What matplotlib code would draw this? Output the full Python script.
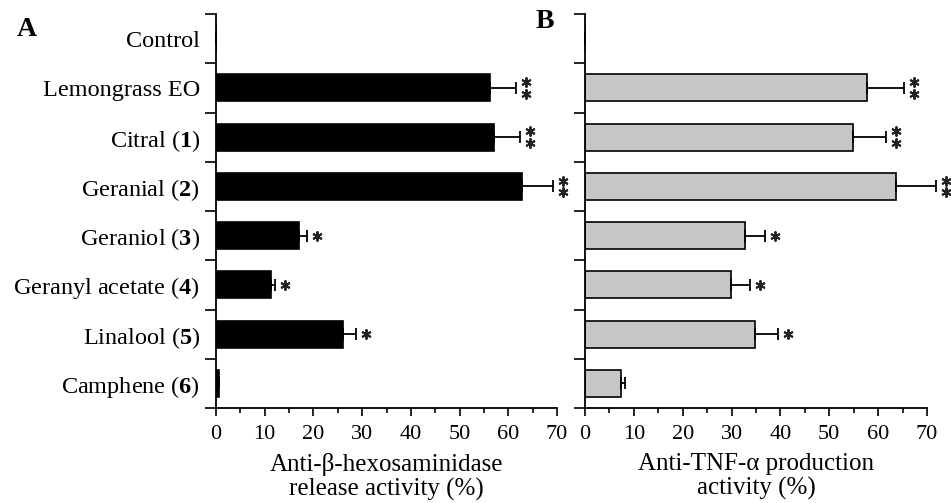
import numpy as np
import matplotlib
matplotlib.use("Agg")
import matplotlib.pyplot as plt
from matplotlib.ticker import MultipleLocator, FixedLocator, NullFormatter
from matplotlib.transforms import ScaledTranslation

plt.rcParams['font.family'] = ['Liberation Serif', 'DejaVu Serif']
plt.rcParams['mathtext.fontset'] = 'custom'
plt.rcParams['mathtext.rm'] = 'Liberation Serif'
plt.rcParams['mathtext.bf'] = 'Liberation Serif:bold'

# ---- data ----
categories = ["Control", "Lemongrass EO", r"Citral ($\mathbf{1}$)", r"Geranial ($\mathbf{2}$)",
              r"Geraniol ($\mathbf{3}$)", r"Geranyl acetate ($\mathbf{4}$)",
              r"Linalool ($\mathbf{5}$)", r"Camphene ($\mathbf{6}$)"]

hex_vals = [0, 56.2, 57.0, 62.9, 17.0, 11.2, 26.0, 0.7]
hex_err = [0, 5.3, 5.4, 6.3, 1.6, 0.9, 2.7, 0]
hex_sig = ["", "**", "**", "**", "*", "*", "*", ""]

tnf_vals = [0, 57.7, 54.8, 63.6, 32.7, 29.8, 34.8, 7.4]
tnf_err = [0, 7.5, 6.8, 8.2, 4.2, 3.9, 4.7, 0.7]
tnf_sig = ["", "**", "**", "**", "*", "*", "*", ""]

xticks = [0, 10, 20, 30, 40, 50, 60, 70]
xlabel_a = "Anti-β-hexosaminidase\nrelease activity (%)"
xlabel_b = "Anti-TNF-α production\nactivity (%)"

W, H = 951, 503
fig = plt.figure(figsize=(W / 100, H / 100), dpi=100)

bottom = (H - 408) / H
height = (408 - 14) / H
ax1 = fig.add_axes([216 / W, bottom, 341 / W, height])
ax2 = fig.add_axes([585 / W, bottom, 342 / W, height])

y = np.arange(len(categories))


def draw(ax, vals, errs, sigs, color, show_labels, xlabel):
    ax.barh(y, vals, height=0.55, color=color, edgecolor='black', linewidth=1.2, zorder=2)
    ax.errorbar(vals, y, xerr=[np.zeros(len(vals)), errs], fmt='none', ecolor='black',
                elinewidth=1.3, capsize=4.3, capthick=1.3, zorder=3, clip_on=False)
    ax.set_xlim(0, 70)
    ax.set_ylim(len(categories) - 0.5, -0.5)
    for s in ['top', 'right']:
        ax.spines[s].set_visible(False)
    for s in ['left', 'bottom']:
        ax.spines[s].set_linewidth(1.3)
    ax.xaxis.set_major_locator(FixedLocator(xticks))
    ax.xaxis.set_minor_locator(MultipleLocator(5))
    ax.tick_params(axis='x', which='major', direction='out', length=6, width=1.2,
                   labelsize=16, pad=6)
    ax.tick_params(axis='x', which='minor', direction='out', length=3.5, width=1.2)
    # y: labels at category centres, ticks at boundaries
    ax.yaxis.set_major_locator(FixedLocator(y))
    ax.yaxis.set_minor_locator(FixedLocator(np.arange(len(categories) + 1) - 0.5))
    ax.yaxis.set_minor_formatter(NullFormatter())
    ax.tick_params(axis='y', which='minor', direction='out', length=8, width=1.2)
    ax.tick_params(axis='y', which='major', length=0, pad=11.5, labelsize=17.5)
    if show_labels:
        ax.set_yticklabels(categories)
    else:
        ax.set_yticklabels([])
    ax.set_xlabel(xlabel, fontsize=18, labelpad=6.5, linespacing=1.12)
    # significance asterisks
    for i, (v, e, s) in enumerate(zip(vals, errs, sigs)):
        if not s:
            continue
        xe = v + e
        dys = [4.2, -4.2] if s == "**" else [0.0]
        for dy in dys:
            tr = ax.transData + ScaledTranslation(10 / 100, dy / 72, fig.dpi_scale_trans)
            ax.plot([xe], [i], marker=(6, 2, 0), ms=7.2, mew=1.4, color='#222222',
                    transform=tr, clip_on=False, zorder=4)


draw(ax1, hex_vals, hex_err, hex_sig, 'black', True, xlabel_a)
draw(ax2, tnf_vals, tnf_err, tnf_sig, '#c6c6c6', False, xlabel_b)

fig.text(27 / W, 1 - 29 / H, "A", fontsize=20, fontweight='bold', ha='center', va='center')
fig.text(545 / W, 1 - 22 / H, "B", fontsize=20, fontweight='bold', ha='center', va='center')

fig.savefig("out.png", dpi=100)
